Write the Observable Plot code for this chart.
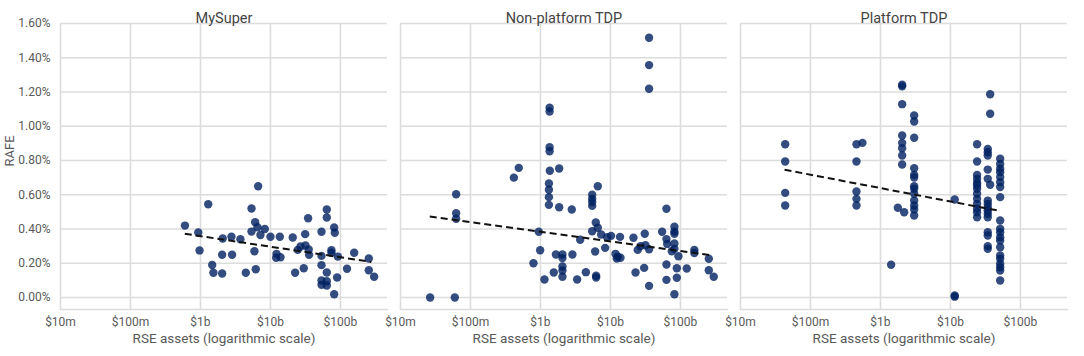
<!DOCTYPE html>
<html><head><meta charset="utf-8">
<script src="https://cdn.jsdelivr.net/npm/d3@7"></script>
<script src="https://cdn.jsdelivr.net/npm/@observablehq/plot@0.6"></script>
<style>body{margin:0;background:#fff;}</style>
</head><body><div id="chart"></div>
<script>
// Panels (facets)
const panels = ["MySuper", "Non-platform TDP", "Platform TDP"];

// Axis ticks (assets in $ billions, RAFE in %)
const xTicks = [0.01, 0.1, 1, 10, 100];
const xTickLabels = ["$10m", "$100m", "$1b", "$10b", "$100b"];
const yTicks = [0, 0.2, 0.4, 0.6, 0.8, 1.0, 1.2, 1.4, 1.6];

// [RSE assets ($b), RAFE (%)]
const mysuperPoints = [
  [0.60,0.42],[0.93,0.38],[0.97,0.275],[1.29,0.545],[1.47,0.19],[1.53,0.145],[2.04,0.14],[2.04,0.25],
  [2.08,0.345],[2.77,0.355],[2.83,0.25],[3.72,0.34],[4.44,0.145],[5.36,0.52],[5.36,0.385],[5.9,0.27],
  [6.17,0.165],[6.04,0.44],[6.52,0.41],[6.67,0.65],[7.19,0.365],[8.3,0.40],[10,0.355],[12.2,0.255],
  [12.05,0.232],[13.9,0.235],[13.6,0.355],[20.8,0.35],[22.5,0.145],[24.5,0.278],[26.9,0.298],[31.3,0.37],
  [31.6,0.304],[34.5,0.463],[35.2,0.28],[35.6,0.249],[29.9,0.171],[53.6,0.384],[53.6,0.243],[53.6,0.189],
  [53.6,0.099],[53.6,0.074],[63.8,0.514],[63.8,0.467],[63.8,0.146],[63.8,0.095],[63.8,0.07],[74.3,0.276],
  [74.3,0.261],[81.3,0.409],[83,0.378],[81.3,0.019],[89.5,0.117],[91.6,0.239],[124,0.168],[157,0.261],
  [254,0.228],[254,0.159],[303,0.121]
];
const nonPlatformPoints = [
  [35.6,1.517],[35.6,1.357],[35.6,1.219],
  [1.35,1.108],[1.35,1.086],[1.35,0.878],[1.35,0.854],
  [0.49,0.757],[0.417,0.70],[1.36,0.74],[1.85,0.753],
  [1.32,0.666],[1.32,0.629],[1.32,0.586],[1.32,0.541],
  [1.85,0.527],[2.8,0.514],
  [0.0624,0.603],[0.0624,0.492],[0.0624,0.46],
  [0.946,0.384],[0.989,0.276],[0.794,0.2],[1.14,0.105],[1.55,0.146],[1.66,0.251],
  [2.06,0.251],[2.06,0.23],[2.06,0.181],[2.06,0.158],[2.06,0.121],
  [2.86,0.251],[3.34,0.105],[3.69,0.337],[4.45,0.148],
  [5.48,0.60],[5.48,0.576],[5.48,0.557],[5.48,0.535],[5.48,0.387],
  [6.59,0.65],[6.59,0.407],[6.17,0.438],[6.04,0.269],[6.24,0.127],[6.24,0.117],
  [7.36,0.368],[8.39,0.29],[8.95,0.352],[10.2,0.36],[11.8,0.255],[12.7,0.238],[13.9,0.232],[12.3,0.228],[13.7,0.354],
  [21.3,0.349],[22.8,0.146],[24.5,0.278],[26.9,0.30],[30.3,0.173],[30.9,0.372],[35.6,0.282],[35.6,0.068],[31.6,0.305],
  [54.7,0.384],[63.1,0.518],[63.1,0.341],[63.1,0.193],[63.1,0.103],[64.6,0.313],
  [82,0.413],[82,0.385],[82,0.372],[82,0.315],[82,0.284],[82,0.019],[75.2,0.27],[93.5,0.241],[88.7,0.171],[88.7,0.115],
  [123,0.169],[158,0.278],[158,0.26],[254,0.226],[254,0.159],[299,0.121],
  [0.0265,0],[0.0597,0]
];
const platformPoints = [
  [0.0435,0.895],[0.0435,0.794],[0.0435,0.611],[0.0435,0.537],
  [0.454,0.895],[0.454,0.794],[0.454,0.619],[0.454,0.576],[0.454,0.537],[0.553,0.903],
  [2.04,1.242],[2.04,1.233],[2.04,1.129],[2.04,0.946],[2.04,0.903],[2.04,0.872],[2.04,0.829],[2.04,0.777],
  [3.03,1.063],[3.03,1.028],[3.03,0.933],[3.03,0.755],[3.03,0.716],[3.03,0.701],[3.03,0.65],[3.03,0.635],
  [3.03,0.606],[3.03,0.566],[3.03,0.537],[3.03,0.514],[3.03,0.479],
  [1.77,0.524],[2.18,0.498],[1.42,0.191],
  [11.5,0.572],[11.5,0.012],[11.5,0.005],
  [24,0.895],[24,0.794],[24,0.716],[24,0.693],[24,0.67],[24,0.654],[24,0.635],[24,0.606],[24,0.576],
  [24,0.547],[24,0.518],[24,0.498],[24,0.469],
  [34.1,0.868],[34.1,0.848],[34.1,0.829],[34.1,0.747],[34.1,0.693],[34.1,0.566],[34.1,0.547],[34.1,0.527],
  [34.1,0.508],[34.1,0.489],[34.1,0.469],[34.1,0.381],[34.1,0.362],[34.1,0.30],[34.1,0.284],
  [36.9,1.187],[36.9,1.073],[36.9,0.658],
  [51.3,0.81],[51.3,0.78],[51.3,0.752],[51.3,0.732],[51.3,0.703],[51.3,0.673],[51.3,0.645],[51.3,0.586],
  [51.3,0.45],[51.3,0.401],[51.3,0.381],[51.3,0.352],[51.3,0.333],[51.3,0.294],[51.3,0.245],[51.3,0.226],
  [51.3,0.197],[51.3,0.177],[51.3,0.158],[51.3,0.099]
];

// Trend lines: [x1, y1, x2, y2] per panel
const trendLines = [
  [0.597, 0.372, 275, 0.208],
  [0.0262, 0.473, 274, 0.247],
  [0.0426, 0.746, 50.1, 0.506]
];

const series = [mysuperPoints, nonPlatformPoints, platformPoints];
const points = series.flatMap((arr, i) => arr.map(([x, y]) => ({panel: panels[i], x, y})));
const trend = trendLines.map(([x1, y1, x2, y2], i) => ({panel: panels[i], x1, y1, x2, y2}));

const gridColor = "#dcdcdc";
const textColor = "#595959";
const chart = Plot.plot({
  width: 1084, height: 356,
  marginTop: 23, marginBottom: 47, marginLeft: 60, marginRight: 16,
  style: {fontFamily: "Roboto, sans-serif", fontSize: "12px", color: textColor, background: "#fff", overflow: "visible"},
  fx: {domain: panels, axis: null, paddingInner: 0.038, paddingOuter: 0},
  x: {type: "log", domain: [0.01, 470]},
  y: {domain: [-0.07, 1.6]},
  marks: [
    Plot.gridX(xTicks, {stroke: gridColor, strokeOpacity: 1, strokeWidth: 1.6}),
    Plot.gridY(yTicks, {stroke: gridColor, strokeOpacity: 1, strokeWidth: 1.6}),
    Plot.frame({anchor: "bottom", stroke: gridColor, strokeWidth: 1.6}),
    Plot.axisX(xTicks, {tickSize: 0, tickPadding: 8, tickFormat: d => xTickLabels[xTicks.indexOf(d)], label: null, fill: textColor, fontSize: 12}),
    Plot.axisY(yTicks, {tickSize: 0, tickPadding: 10, tickFormat: d => d.toFixed(2) + "%", label: null, fill: textColor, fontSize: 12}),
    Plot.dot(points, {x: "x", y: "y", fx: "panel", r: 4.2, fill: "#002060", fillOpacity: 0.8, stroke: "none"}),
    Plot.link(trend, {x1: "x1", y1: "y1", x2: "x2", y2: "y2", fx: "panel", stroke: "#111", strokeWidth: 2, strokeDasharray: "7,4"}),
    Plot.text(panels, {fx: d => d, text: d => d, frameAnchor: "top", dy: -11, fontSize: 14.5, fill: "#444"}),
    Plot.text(panels, {fx: d => d, text: () => "RSE assets (logarithmic scale)", frameAnchor: "bottom", dy: 33, fontSize: 13.5, fill: textColor}),
    Plot.text([panels[0]], {fx: d => d, text: () => "RAFE", frameAnchor: "left", dx: -51, rotate: -90, fontSize: 13, fill: textColor})
  ]
});
document.getElementById("chart").append(chart);
</script>
</body></html>
